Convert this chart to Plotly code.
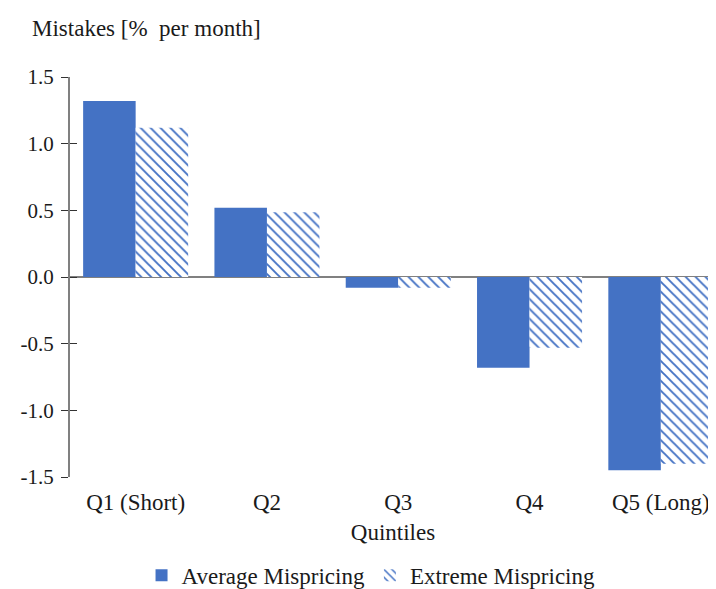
import plotly.graph_objects as go

categories = ["Q1 (Short)", "Q2", "Q3", "Q4", "Q5 (Long)"]
average_mispricing = [1.32, 0.52, -0.08, -0.68, -1.45]
extreme_mispricing = [1.12, 0.485, -0.08, -0.53, -1.40]
y_ticks = [1.5, 1.0, 0.5, 0.0, -0.5, -1.0, -1.5]
y_tick_labels = ["1.5", "1.0", "0.5", "0.0", "-0.5", "-1.0", "-1.5"]

BLUE = "#4472C4"
FONT = "Liberation Serif"
TXT = "#1a1a1a"

fig = go.Figure()
fig.add_trace(go.Bar(
    x=list(range(len(categories))), y=average_mispricing, name="Average Mispricing",
    marker=dict(color=BLUE, line=dict(width=0)),
))
fig.add_trace(go.Bar(
    x=list(range(len(categories))), y=extreme_mispricing, name="Extreme Mispricing",
    marker=dict(color="white", line=dict(width=0),
                pattern=dict(shape="\\", fgcolor=BLUE, bgcolor="white", size=7,
                             solidity=0.27, fgopacity=1)),
))
# invisible trace to carry crossing (inside) tick marks on y axis
fig.add_trace(go.Scatter(x=[0], y=[0], yaxis="y2", mode="markers",
                         marker=dict(opacity=0), showlegend=False, hoverinfo="skip"))

fig.update_layout(
    width=708, height=581,
    margin=dict(l=62, r=0, t=69, b=112, autoexpand=False),
    paper_bgcolor="white", plot_bgcolor="white",
    barmode="group", bargap=0.2, bargroupgap=0,
    font=dict(family=FONT, size=23, color=TXT),
    showlegend=True,
    legend=dict(orientation="h", x=0.466, xanchor="center", y=-0.246, yanchor="middle",
                font=dict(family=FONT, size=23, color=TXT), itemwidth=30,
                bgcolor="rgba(0,0,0,0)"),
    xaxis=dict(
        range=[-0.5, 4.42], tickmode="array", tickvals=list(range(len(categories))),
        ticktext=categories, showline=False, showgrid=False, zeroline=False,
        ticks="", ticklabelstandoff=9, tickfont=dict(family=FONT, size=23, color=TXT),
        title=dict(text="Quintiles", font=dict(family=FONT, size=23, color=TXT), standoff=9),
    ),
    yaxis=dict(
        range=[-1.5, 1.5], tickmode="array", tickvals=y_ticks, ticktext=y_tick_labels,
        showline=True, linecolor="#808080", linewidth=2, showgrid=False,
        zeroline=True, zerolinecolor="#808080", zerolinewidth=2,
        ticks="outside", ticklen=7, tickcolor="#333333", tickwidth=1.3,
        ticklabelstandoff=3, tickfont=dict(family=FONT, size=21, color=TXT),
    ),
    yaxis2=dict(
        range=[-1.5, 1.5], overlaying="y", side="left", anchor="x",
        tickmode="array", tickvals=y_ticks, showticklabels=False,
        ticks="inside", ticklen=7, tickcolor="#333333", tickwidth=1.3,
        showgrid=False, zeroline=False, showline=False,
    ),
    annotations=[dict(
        text="Mistakes [%\u00a0 per month]", xref="paper", yref="paper",
        x=-0.062, y=1.0, yshift=49, xanchor="left", yanchor="middle", showarrow=False,
        font=dict(family=FONT, size=23, color=TXT),
    )],
)

fig.write_html("out.html")
